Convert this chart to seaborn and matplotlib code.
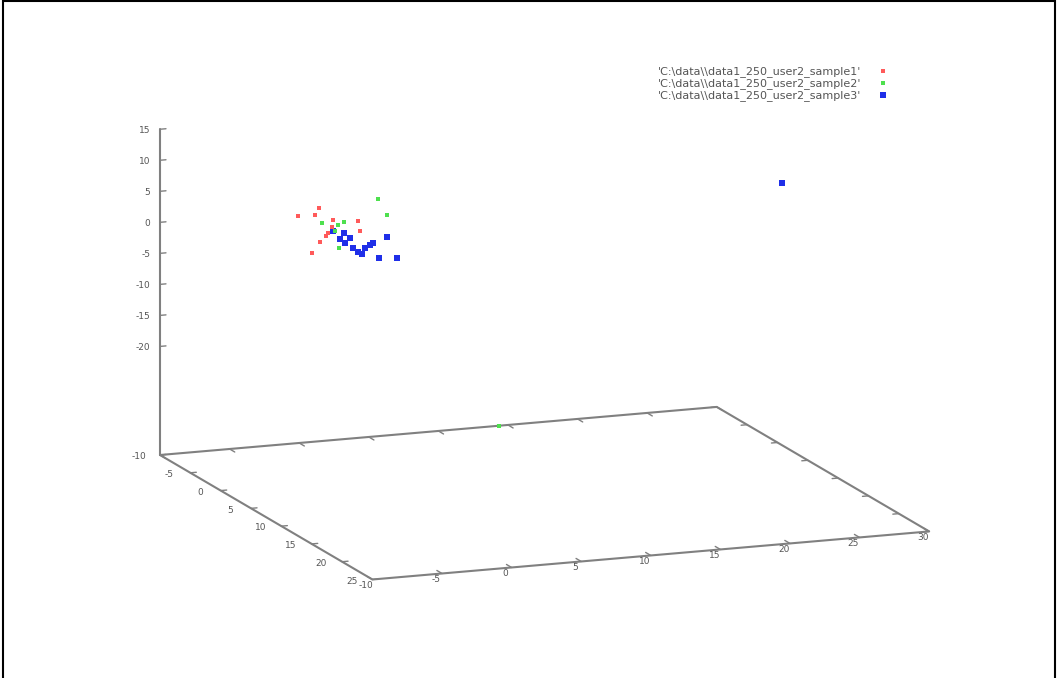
import numpy as np
import pandas as pd
import seaborn as sns
import matplotlib.pyplot as plt
from matplotlib.lines import Line2D
from mpl_toolkits.mplot3d import proj3d

# points (x, y, z per sample file)
s1_x = [-2, 1, -1, 2, 0, 3, 0, -3, 1, -1, 2]
s1_y = [-3.6, -3.4, -2.8, -2.8, -0.1, -1.3, -2.9, -2.1, -2.7, -1.6, -3.3]
s1_z = [4.3, 7.4, 5.0, 5.9, 4.1, 4.4, 1.2, -2.4, 3.2, 2.7, 3.4]

s2_x = [2, 1, -1, 0, 1, 2, -2, 16.9]
s2_y = [0.4, 1.5, -2.3, -1.6, -1.6, -2.4, -0.9, 2.6]
s2_z = [8.7, 5.3, 3.6, 3.6, 4.8, 1.3, 1.5, -19.8]

s3_x = [0, 1, 2, 1, 0, 3, -1, 0, 2, 1, -2, 3, 2, -1, 10]
s3_y = [-1.9, -1.5, -1.4, -0.6, 0.4, -0.6, -0.3, -1.4, -0.7, 0.5, 2.8, 0.1, 1.8, -0.7, 26.0]
s3_z = [2.7, 1.4, 1.1, -0.3, -0.4, 1.9, 0.8, 1.4, -0.1, 1.0, -0.2, -0.2, -1.1, 1.7, 10.9]

labels = [r"'C:\data\\data1_250_user2_sample1'",
          r"'C:\data\\data1_250_user2_sample2'",
          r"'C:\data\\data1_250_user2_sample3'"]

x_ticks = [-10, -5, 0, 5, 10, 15, 20, 25]
y_ticks = [-10, -5, 0, 5, 10, 15, 20, 25, 30]
z_ticks = [-20, -15, -10, -5, 0, 5, 10, 15]

frames = []
for lab, xs, ys, zs in zip(labels, [s1_x, s2_x, s3_x], [s1_y, s2_y, s3_y], [s1_z, s2_z, s3_z]):
    frames.append(pd.DataFrame({'x': xs, 'y': ys, 'z': zs, 'sample': lab}))
df = pd.concat(frames, ignore_index=True)

sns.set_theme(style="white")
plt.rcParams['font.family'] = ['DejaVu Sans']

colors = ['#ff5a5a', '#4ee04e', '#1f2fe8']
sizes = [7, 8, 15]
txt = '#555555'
edge = '#808080'

W, H = 1057, 678
fig = plt.figure(figsize=(W / 100, H / 100), dpi=100)
ax = fig.add_axes([0, 0, 1, 1], projection='3d', proj_type='ortho')
ax.view_init(elev=13, azim=-21)
ax.set_box_aspect((1, 1.006, 0.564))

xmin, xmax = -10, 25
ymin, ymax = -10, 30
zbase, zmax = -37.5, 15
ax.set_xlim(xmin, xmax)
ax.set_ylim(ymin, ymax)
ax.set_zlim(zbase, zmax)
ax.set_axis_off()

handles = []
for (lab, grp), c, s in zip(df.groupby('sample', sort=False), colors, sizes):
    h = ax.scatter(grp['x'], grp['y'], grp['z'], color=c, s=s, marker='s',
                   linewidths=0, depthshade=False, label=lab)
    handles.append(h)

# base frame
bx = [xmin, xmax, xmax, xmin, xmin]
by = [ymin, ymin, ymax, ymax, ymin]
ax.plot(bx, by, [zbase] * 5, color=edge, lw=1.5)
# z axis at the back-left corner
ax.plot([xmin, xmin], [ymin, ymin], [zbase, zmax], color=edge, lw=1.5)

tlx = 0.85
tly = 0.43
for t in x_ticks:
    ax.plot([t, t], [ymin, ymin + tly], [zbase, zbase], color=edge, lw=1)
    ax.plot([t, t], [ymax, ymax - tly], [zbase, zbase], color=edge, lw=1)
for t in y_ticks:
    ax.plot([xmax, xmax - tlx], [t, t], [zbase, zbase], color=edge, lw=1)
    ax.plot([xmin, xmin + tlx], [t, t], [zbase, zbase], color=edge, lw=1)
for t in z_ticks:
    ax.plot([xmin, xmin], [ymin, ymin + tly], [t, t], color=edge, lw=1)

# fit the projected box onto the screenshot's frame
fig.canvas.draw()


def to_px(x, y, z):
    xp, yp, _ = proj3d.proj_transform(x, y, z, ax.get_proj())
    return np.array(ax.transData.transform((xp, yp)))


pa = to_px(xmin, ymin, zbase)
pc = to_px(xmax, ymax, zbase)
bb = ax.get_position()
L0 = bb.width * W
c0 = np.array([(bb.x0 + bb.width / 2) * W, (bb.y0 + bb.height / 2) * H])
qa = (pa - c0) / L0
qc = (pc - c0) / L0
ta = np.array([160, H - 455])
tc = np.array([929, H - 533])
L = np.linalg.norm(tc - ta) / np.linalg.norm(qc - qa)
c = ta - L * qa
ax.set_position([(c[0] - L / 2) / W, (c[1] - L / 2) / H, L / W, L / H])
fig.canvas.draw()

# tick labels, placed at the projected tick positions
def label(x, y, z, s, ha='center'):
    p = to_px(x, y, z)
    fig.text(p[0] / W, p[1] / H, s, fontsize=6.5, color=txt, ha=ha, va='center')


for t in x_ticks:
    label(t, ymin - 1.5, zbase, str(t))
for t in y_ticks:
    label(xmax + 1.3, t - 1.0, zbase, str(t))
for t in z_ticks:
    label(xmin, ymin - 0.7, t, str(t), ha='right')

leg = fig.legend(handles=handles, labels=labels, loc='upper right',
                 bbox_to_anchor=(0.845, 0.909), markerfirst=False, frameon=False,
                 fontsize=8, handlelength=1, handletextpad=1.5, labelspacing=0.1,
                 borderaxespad=0, scatterpoints=1, labelcolor=txt)

# screenshot border
for xs, ys in [([0.003, 0.003], [0, 1]), ([0.003, 0.998], [0.998, 0.998]), ([0.998, 0.998], [0, 1])]:
    fig.add_artist(Line2D(xs, ys, color='black', lw=1.5, transform=fig.transFigure))

fig.savefig('out.png', dpi=100, facecolor='white')
